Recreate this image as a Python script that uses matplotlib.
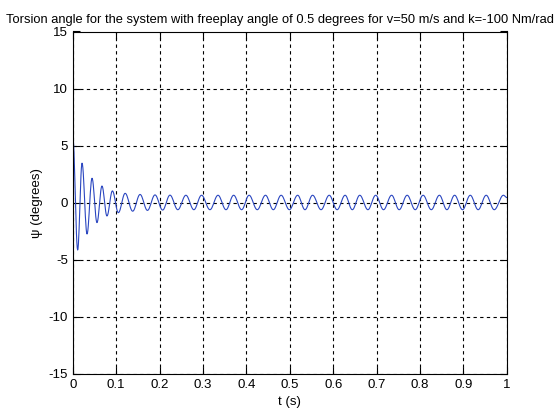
import numpy as np
import matplotlib
matplotlib.use('Agg')
import matplotlib.pyplot as plt

# extrema of the torsion response (s, degrees)
start_time = 0.0
start_value = 5.8
peak_times = [0.0213, 0.0443, 0.0672, 0.0912, 0.1206, 0.1550, 0.1894, 0.2239,
              0.2606, 0.2966, 0.3346, 0.3706, 0.4062, 0.4440, 0.4800, 0.5181,
              0.5525, 0.5908, 0.6275, 0.6612, 0.6979, 0.7346, 0.7704, 0.8071,
              0.8447, 0.8798, 0.9158, 0.9525, 0.9922]
peak_values = [3.46, 2.14, 1.46, 1.03, 0.82, 0.72, 0.68, 0.66,
               0.65, 0.65, 0.65, 0.65, 0.65, 0.65, 0.65, 0.65,
               0.65, 0.65, 0.65, 0.65, 0.65, 0.65, 0.65, 0.65,
               0.65, 0.65, 0.65, 0.65, 0.65]
trough_times = [0.0112, 0.0328, 0.0557, 0.0787, 0.1050, 0.1380, 0.1720, 0.2070,
                0.2420, 0.2790, 0.3160, 0.3530, 0.3890, 0.4250, 0.4620, 0.4990,
                0.5350, 0.5720, 0.6090, 0.6440, 0.6800, 0.7160, 0.7520, 0.7890,
                0.8260, 0.8620, 0.8980, 0.9340, 0.9710]
trough_values = [-4.15, -2.75, -1.75, -1.17, -0.88, -0.75, -0.68, -0.65,
                 -0.62, -0.62, -0.62, -0.62, -0.62, -0.62, -0.62, -0.62,
                 -0.62, -0.62, -0.62, -0.62, -0.62, -0.62, -0.62, -0.62,
                 -0.62, -0.62, -0.62, -0.62, -0.62]
end_time = 1.0
end_value = 0.45

xticks = [0, 0.1, 0.2, 0.3, 0.4, 0.5, 0.6, 0.7, 0.8, 0.9, 1]
xticklabels = ['0', '0.1', '0.2', '0.3', '0.4', '0.5', '0.6', '0.7', '0.8', '0.9', '1']
yticks = [-15, -10, -5, 0, 5, 10, 15]


def build_curve(times, values, n=12):
    # half-cosine segments between consecutive extrema
    ts, vs = [], []
    for i in range(len(times) - 1):
        s = np.linspace(0, 1, n, endpoint=False)
        w = (1 - np.cos(np.pi * s)) / 2
        ts.append(times[i] + (times[i + 1] - times[i]) * s)
        vs.append(values[i] + (values[i + 1] - values[i]) * w)
    ts.append([times[-1]])
    vs.append([values[-1]])
    return np.concatenate(ts), np.concatenate(vs)


ext = sorted(zip(peak_times + trough_times, peak_values + trough_values))
times = [start_time] + [e[0] for e in ext] + [end_time]
values = [start_value] + [e[1] for e in ext] + [end_value]
t, psi = build_curve(times, values)

plt.rcParams['font.family'] = ['Liberation Sans', 'DejaVu Sans']
plt.rcParams['axes.unicode_minus'] = False

fig = plt.figure(figsize=(5.6, 4.2), dpi=100)
ax = fig.add_axes([0.13, 0.11, 0.775, 0.815])
ax.plot(t, psi, color='#2a46c0', linewidth=0.8)

ax.set_xlim(0, 1)
ax.set_ylim(-15, 15)
ax.set_xticks(xticks)
ax.set_xticklabels(xticklabels)
ax.set_yticks(yticks)
ax.grid(True, color='black', linestyle=(0, (3, 3)), linewidth=0.8)
ax.tick_params(direction='in', top=True, right=True, labelsize=9.5, length=5, width=0.8)
for sp in ax.spines.values():
    sp.set_linewidth(0.8)

ax.set_xlabel('t (s)', fontsize=9.5)
ax.set_ylabel('\u03c8 (degrees)', fontsize=9.5)
# title kept whole, centred on the figure so it fits the width
fig.text(0.5, 0.938, 'Torsion angle for the system with freeplay angle of 0.5 degrees for v=50 m/s and k=-100 Nm/rad',
         fontsize=9.3, ha='center', va='bottom')

fig.savefig('out.png', dpi=100)
